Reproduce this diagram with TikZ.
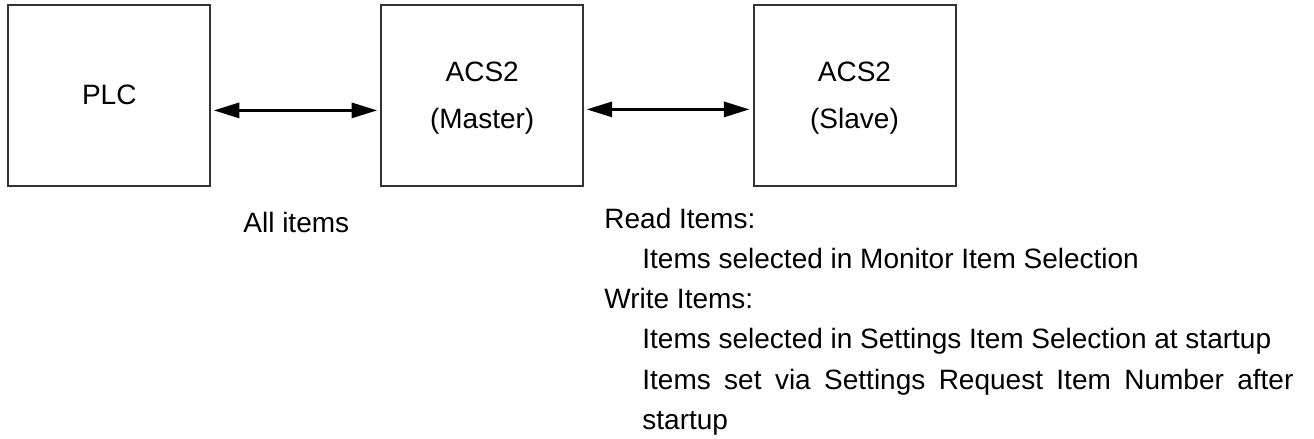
\documentclass[tikz,border=0pt]{standalone}
\usepackage{fontspec}
\setmainfont{Liberation Sans}
\usetikzlibrary{arrows.meta}
\definecolor{edgegray}{HTML}{333333}
\newcommand{\nodepth}[1]{\raisebox{0pt}[\height][0pt]{#1}}
\tikzset{
  unitbox/.style={draw=edgegray, line width=1pt, minimum width=101pt, minimum height=90.5pt, inner sep=0pt, align=center, font=\fontsize{14pt}{23.5pt}\selectfont},
  dblarrow/.style={line width=1.5pt, {Triangle[length=12.8pt,width=7.5pt]}-{Triangle[length=12.8pt,width=7.5pt]}, shorten <=1.2pt, shorten >=1.5pt},
  txt/.style={anchor=base west, inner sep=0pt, font=\fontsize{14pt}{20pt}\selectfont}
}
\begin{document}
\begin{tikzpicture}[x=0.5pt,y=-0.5pt]
\useasboundingbox (0,0) rectangle (1314,439);
\node[unitbox] (plc) at (109.3,95.2) {PLC};
\node[unitbox] (master) at (482.2,95.2) {ACS2\\\nodepth{(Master)}};
\node[unitbox] (slave) at (854.5,95.2) {ACS2\\\nodepth{(Slave)}};
\draw[dblarrow] ([yshift=-7.6pt]plc.east) -- ([yshift=-7.6pt]master.west);
\draw[dblarrow] ([yshift=-7.1pt]master.east) -- ([yshift=-7.1pt]slave.west);
\node[txt] (all) at (243,232) {All items};
\node[txt] (read) at (604,228) {Read Items:};
\node[txt] (readsel) at (642,268.5) {Items selected in Monitor Item Selection};
\node[txt] (write) at (604,308.7) {Write Items:};
\node[txt] (writesel) at (642,348.9) {Items selected in Settings Item Selection at startup};
\node[txt] (writeset) at (642,389.1) {\makebox[325.5pt][s]{Items set via Settings Request Item Number after}};
\node[txt] (writeset2) at (642,429.3) {startup};
\end{tikzpicture}
\end{document}
